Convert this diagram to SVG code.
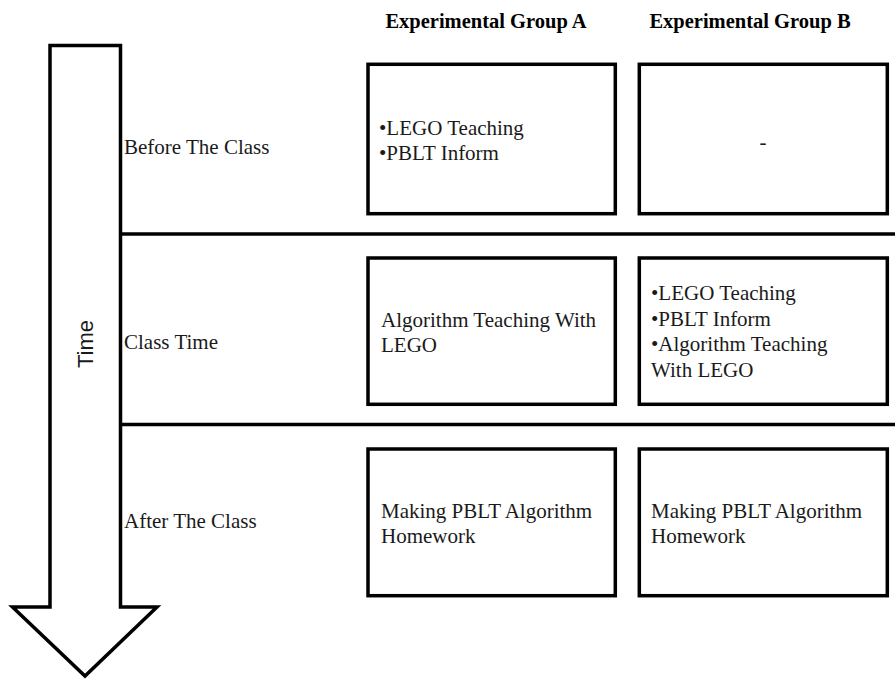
<svg xmlns="http://www.w3.org/2000/svg" width="895" height="679" viewBox="0 0 895 679">
<style>
  .box { fill: #ffffff; stroke: #000000; stroke-width: 3.5; }
  .sep { stroke: #000000; stroke-width: 3.5; fill: none; }
  .arrow { fill: #ffffff; stroke: #000000; stroke-width: 3.5; stroke-linejoin: miter; }
  .t { font-family: "Liberation Serif", "Times New Roman", serif; font-size: 21px; fill: #1a1a1a; }
  .hdr { font-family: "Liberation Serif", "Times New Roman", serif; font-size: 20.5px; font-weight: bold; fill: #000000; }
  .time { font-family: "Liberation Sans", Arial, sans-serif; font-size: 22px; fill: #1a1a1a; }
</style>
<rect width="895" height="679" fill="#ffffff"/>

<g id="time-arrow">
  <polygon class="arrow" points="50,45.5 120.5,45.5 120.5,607 157,607 85,676 12.5,607 50,607"/>
  <text class="time" transform="translate(93,344) rotate(-90)" text-anchor="middle">Time</text>
</g>

<g id="connectors">
  <line class="sep" x1="120.5" y1="234" x2="895" y2="234"/>
  <line class="sep" x1="120.5" y1="424.5" x2="895" y2="424.5"/>
</g>

<g id="header-a"><text class="hdr" x="486" y="28" text-anchor="middle">Experimental Group A</text></g>
<g id="header-b"><text class="hdr" x="750" y="28" text-anchor="middle">Experimental Group B</text></g>

<g id="label-before"><text class="t" x="124" y="154">Before The Class</text></g>
<g id="label-class"><text class="t" x="124" y="349">Class Time</text></g>
<g id="label-after"><text class="t" x="124" y="528">After The Class</text></g>

<g id="a-before">
  <rect class="box" x="368" y="64.3" width="247.3" height="149.4"/>
  <text class="t" x="379" y="135">•LEGO Teaching</text>
  <text class="t" x="379" y="160">•PBLT Inform</text>
</g>
<g id="b-before">
  <rect class="box" x="639.3" y="64.3" width="248" height="149.4"/>
  <text class="t" x="763" y="149" text-anchor="middle">-</text>
</g>

<g id="a-class">
  <rect class="box" x="368" y="258" width="247.3" height="146.3"/>
  <text class="t" x="381" y="327">Algorithm Teaching With</text>
  <text class="t" x="381" y="352">LEGO</text>
</g>
<g id="b-class">
  <rect class="box" x="639.3" y="258" width="248" height="146.3"/>
  <text class="t" x="651" y="300">•LEGO Teaching</text>
  <text class="t" x="651" y="325.5">•PBLT Inform</text>
  <text class="t" x="651" y="351">•Algorithm Teaching</text>
  <text class="t" x="651" y="376.5">With LEGO</text>
</g>

<g id="a-after">
  <rect class="box" x="368" y="449" width="247.3" height="146.7"/>
  <text class="t" x="381" y="518">Making PBLT Algorithm</text>
  <text class="t" x="381" y="543">Homework</text>
</g>
<g id="b-after">
  <rect class="box" x="639.3" y="449" width="248" height="146.7"/>
  <text class="t" x="651" y="518">Making PBLT Algorithm</text>
  <text class="t" x="651" y="543">Homework</text>
</g>
</svg>
